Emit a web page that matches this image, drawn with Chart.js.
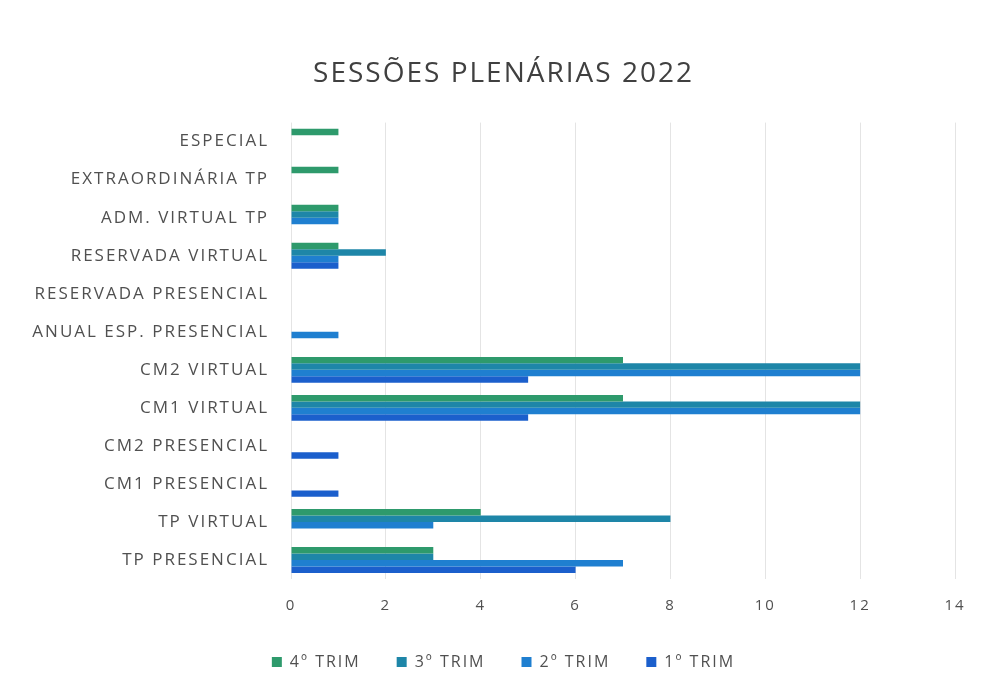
<!DOCTYPE html>
<html>
<head>
<meta charset="utf-8">
<script src="https://cdn.jsdelivr.net/npm/chart.js@4/dist/chart.umd.min.js"></script>
<style>
  html, body { margin: 0; padding: 0; background: #fff; }
  #wrap { width: 993px; height: 693px; }
</style>
</head>
<body>
<div id="wrap"><canvas id="myChart" width="993" height="693"></canvas></div>
<script>
// categories, top to bottom
const categories = [
  'ESPECIAL', 'EXTRAORDINÁRIA TP', 'ADM. VIRTUAL TP', 'RESERVADA VIRTUAL',
  'RESERVADA PRESENCIAL', 'ANUAL ESP. PRESENCIAL', 'CM2 VIRTUAL', 'CM1 VIRTUAL',
  'CM2 PRESENCIAL', 'CM1 PRESENCIAL', 'TP VIRTUAL', 'TP PRESENCIAL'
];
const trim4 = [1, 1, 1, 1, 0, 0, 7, 7, 0, 0, 4, 3];
const trim3 = [0, 0, 1, 2, 0, 0, 12, 12, 0, 0, 8, 3];
const trim2 = [0, 0, 1, 1, 0, 1, 12, 12, 0, 0, 3, 7];
const trim1 = [0, 0, 0, 1, 0, 0, 5, 5, 1, 1, 0, 6];
const seriesNames = ['4º TRIM', '3º TRIM', '2º TRIM', '1º TRIM'];
const xTicks = [0, 2, 4, 6, 8, 10, 12, 14];

const colors = ['#2e9a6c', '#1e86a8', '#1f7fd0', '#1b5fcc'];
const textColor = '#505050';

// wider letter spacing like the scanned original
const spacing = {
  id: 'spacing',
  beforeUpdate: (chart) => { chart.ctx.letterSpacing = '2px'; },
  beforeDraw: (chart) => { chart.ctx.letterSpacing = '2px'; }
};

const ctx = document.getElementById('myChart').getContext('2d');
new Chart(ctx, {
  type: 'bar',
  plugins: [spacing],
  data: {
    labels: categories,
    datasets: [trim4, trim3, trim2, trim1].map((vals, i) => ({
      label: seriesNames[i],
      data: vals,
      backgroundColor: colors[i],
      borderWidth: 0,
      categoryPercentage: 0.68,
      barPercentage: 1.0
    }))
  },
  options: {
    indexAxis: 'y',
    responsive: false,
    animation: false,
    layout: { padding: { left: 30, right: 16, top: 0, bottom: 13 } },
    scales: {
      x: {
        min: 0,
        max: 14,
        afterBuildTicks: (scale) => { scale.ticks = xTicks.map(v => ({ value: v })); },
        afterFit: (scale) => { scale.height = 39; },
        grid: { color: '#e4e4e4', drawTicks: false },
        border: { display: false },
        ticks: {
          color: textColor,
          padding: 18,
          font: { family: 'Open Sans', size: 15 }
        }
      },
      y: {
        afterFit: (scale) => { scale.width = 261; },
        grid: { display: false, drawTicks: false },
        border: { display: false },
        ticks: {
          color: textColor,
          padding: 22,
          autoSkip: false,
          font: { family: 'Open Sans', size: 17 }
        }
      },
      // empty right margin so the chart area ends at 14
      yRight: {
        type: 'category',
        position: 'right',
        afterFit: (scale) => { scale.width = 22; },
        grid: { display: false, drawTicks: false },
        border: { display: false },
        ticks: { display: false }
      }
    },
    plugins: {
      title: {
        display: true,
        text: 'SESSÕES PLENÁRIAS 2022',
        color: '#404040',
        font: { family: 'Open Sans', size: 28, weight: 'normal' },
        padding: { top: 57, bottom: 32 }
      },
      legend: {
        position: 'bottom',
        labels: {
          color: textColor,
          boxWidth: 10,
          boxHeight: 10,
          padding: 36,
          font: { family: 'Open Sans', size: 16 }
        }
      },
      tooltip: { enabled: false }
    }
  }
});
</script>
</body>
</html>
